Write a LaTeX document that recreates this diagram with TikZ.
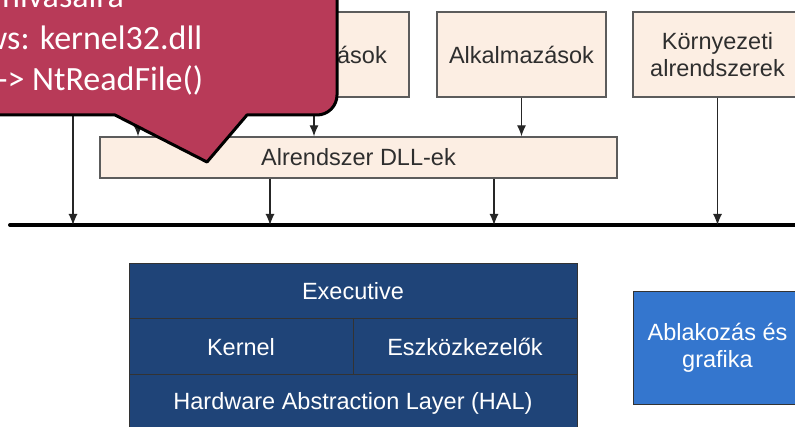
\documentclass[tikz,border=0pt]{standalone}
\usepackage{fontspec}
\setmainfont{Liberation Sans}
\newfontfamily\calloutfont{Carlito}
\usetikzlibrary{arrows.meta}
\definecolor{peach}{HTML}{FCEEE3}
\definecolor{boxline}{HTML}{5C5C5C}
\definecolor{ink}{HTML}{2E2E2E}
\definecolor{navy}{HTML}{1F4478}
\definecolor{skyblue}{HTML}{3476CE}
\definecolor{berry}{HTML}{B83A58}

\begin{document}
\begin{tikzpicture}[x=1pt,y=-1pt,
		every node/.style={font=\fontsize{23.5}{27}\selectfont,align=center,inner sep=0pt},
		userbox/.style={draw=boxline,line width=1.3pt,fill=peach,text=ink},
		corebox/.style={draw=black!80,line width=1pt,fill=navy,text=white},
		arr/.style={draw=black!85,line width=1.2pt,-{Latex[length=11pt,width=9pt]}}]
		\useasboundingbox (0,0) rectangle (795,427);
	
		% felhasznaloi mod
		\node[userbox,minimum width=169pt,minimum height=85pt] (szolg) at (324.5,54.5) {};
		\node[text=ink,anchor=east] (szolgtxt) at (387,54.5) {ások};
		\node[userbox,minimum width=169pt,minimum height=85pt] (alk) at (521.5,54.5) {Alkalmazások};
		\node[userbox,minimum width=169pt,minimum height=85pt] (korny) at (717.5,54.5) {Környezeti\\alrendszerek};
		\node[userbox,minimum width=517pt,minimum height=41pt] (dll) at (358.5,157.5) {Alrendszer DLL-ek};
	
		\coordinate (busL) at (10,225);
		\coordinate (busR) at (800,225);
		\draw[line width=4pt,line cap=round] (busL) -- (busR);
	
		\coordinate (rf) at (73,100);
		\coordinate (sz) at (138,100);
		\draw[arr] (rf) -- (rf |- busL);
		\draw[arr] (sz) -- (sz |- dll.north);
		\draw[arr] ([xshift=-10.5pt]szolg.south) -- ([xshift=-10.5pt]szolg.south |- dll.north);
		\draw[arr] (alk.south) -- (alk.south |- dll.north);
		\draw[arr] ([xshift=-88.5pt]dll.south) -- ([xshift=-88.5pt]dll.south |- busL);
		\draw[arr] ([xshift=135.5pt]dll.south) -- ([xshift=135.5pt]dll.south |- busL);
		\draw[arr] (korny.south) -- (korny.south |- busL);
	
		% kernel mod
		\node[corebox,minimum width=448pt,minimum height=55pt] (exec) at (353,291.5) {Executive};
		\node[corebox,minimum width=224pt,minimum height=56pt] (kernel) at (241,347) {Kernel};
		\node[corebox,minimum width=224pt,minimum height=56pt] (eszk) at (465,347) {Eszközkezelők};
		\node[corebox,minimum width=448pt,minimum height=56pt] (hal) at (353,403) {Hardware Abstraction Layer (HAL)};
		\node[corebox,fill=skyblue,minimum width=169pt,minimum height=112pt] (ablak) at (717.5,348) {Ablakozás és\\grafika};
	
		% buborek
		\draw[fill=berry,draw=black,line width=3pt,line join=round] (290,115) -- (247,115) -- (207,162) -- (115,115)
			-- (-10,115) -- (-10,-10) -- (337,-10) [rounded corners=20pt] -- (337,115) -- cycle;
		\begin{scope}[every node/.style={font=\calloutfont\fontsize{34}{41}\selectfont,text=white,anchor=base west,inner sep=0pt}]
			\node (l1) at (2,8) {hívásaira};
			\node (l2) at (-17,49.5) {ws: kernel32.dll};
			\node (l3) at (-3,91) {-> NtReadFile()};
		\end{scope}
	\end{tikzpicture}
\end{document}
